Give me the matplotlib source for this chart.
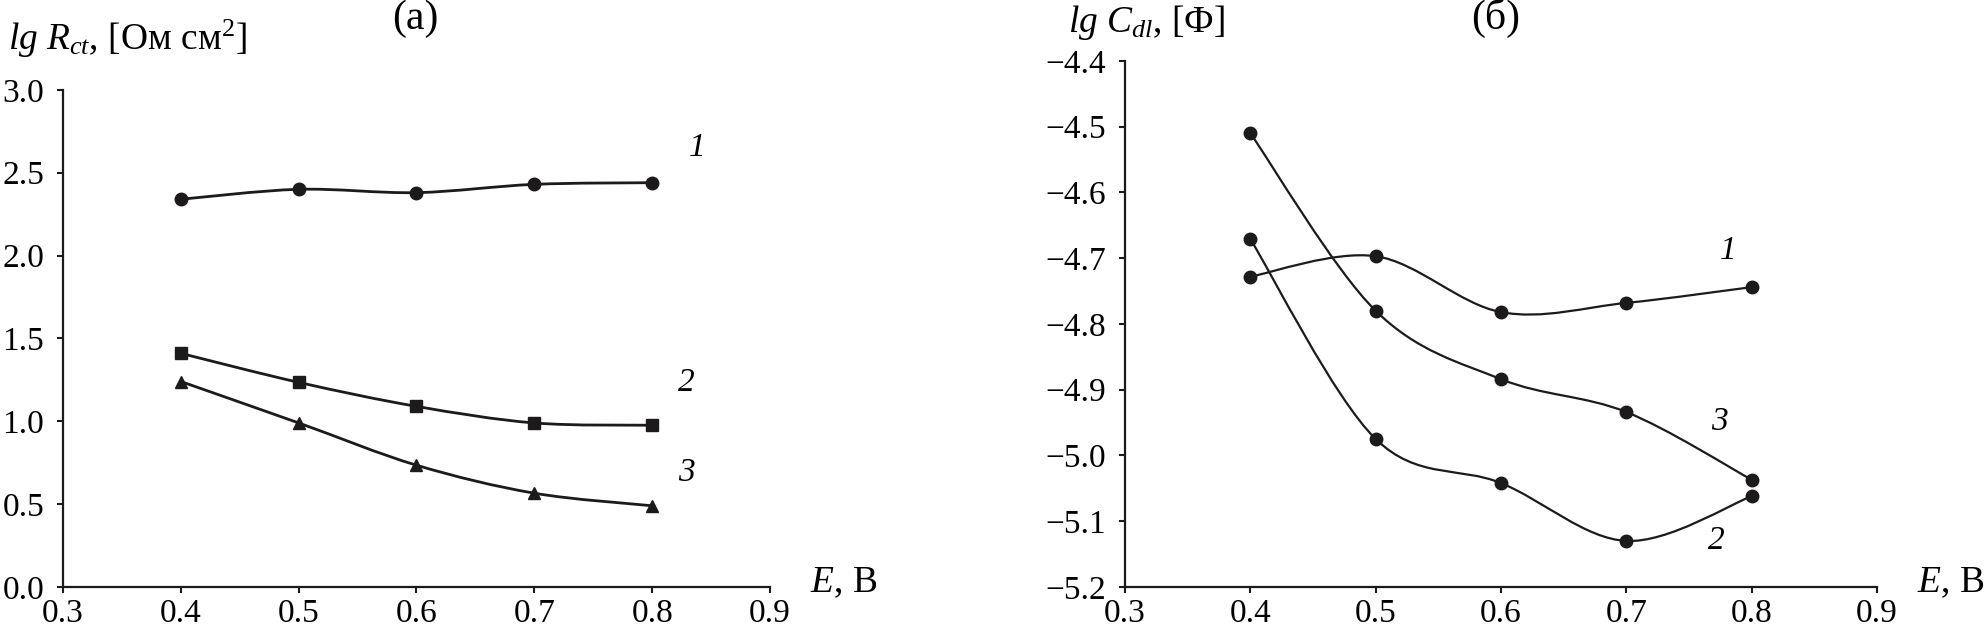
"""Rct and Cdl versus potential E, two panels (а) and (б)."""

import numpy as np
import matplotlib
matplotlib.use("Agg")
import matplotlib.pyplot as plt
from matplotlib.path import Path
from matplotlib.patches import PathPatch
from matplotlib.ticker import FuncFormatter, MultipleLocator

plt.rcParams["font.family"] = ["Liberation Serif", "DejaVu Serif"]
plt.rcParams["mathtext.fontset"] = "custom"
plt.rcParams["mathtext.rm"] = "Liberation Serif"
plt.rcParams["mathtext.it"] = "Liberation Serif:italic"
plt.rcParams["font.size"] = 24

INK = "#1c1a1b"

# data
E = [0.4, 0.5, 0.6, 0.7, 0.8]
lg_rct_1 = [2.34, 2.40, 2.38, 2.43, 2.44]
lg_rct_2 = [1.41, 1.235, 1.09, 0.99, 0.976]
lg_rct_3 = [1.24, 0.99, 0.735, 0.566, 0.49]
lg_cdl_1 = [-4.728, -4.697, -4.782, -4.768, -4.744]
lg_cdl_2 = [-4.671, -4.975, -5.042, -5.130, -5.062]
lg_cdl_3 = [-4.510, -4.780, -4.884, -4.934, -5.037]


def smooth_line(ax, x, y, lw):
    """Draw a smoothed (Bezier) line through the points, like Excel smoothing."""
    pts = np.column_stack([x, y])
    n = len(pts)
    verts = [pts[0]]
    codes = [Path.MOVETO]
    for i in range(n - 1):
        p0 = pts[max(i - 1, 0)]
        p1 = pts[i]
        p2 = pts[i + 1]
        p3 = pts[min(i + 2, n - 1)]
        verts += [p1 + (p2 - p0) / 6, p2 - (p3 - p1) / 6, p2]
        codes += [Path.CURVE4] * 3
    ax.add_patch(PathPatch(Path(verts, codes), fill=False, lw=lw,
                           edgecolor=INK, capstyle="round", joinstyle="round"))


def style_axes(ax):
    for side in ("top", "right"):
        ax.spines[side].set_visible(False)
    for side in ("left", "bottom"):
        ax.spines[side].set_linewidth(1.6)
        ax.spines[side].set_color(INK)
    ax.tick_params(direction="out", length=4.5, width=1.5, color=INK)
    ax.tick_params(axis="y", pad=9)
    ax.tick_params(axis="x", pad=4)
    ax.xaxis.set_major_locator(MultipleLocator(0.1))
    fmt = FuncFormatter(lambda v, p: ("%.1f" % v).replace("-", "\u2212"))
    ax.xaxis.set_major_formatter(fmt)
    ax.yaxis.set_major_formatter(fmt)
    ax.set_xlim(0.3, 0.9)


fig = plt.figure(figsize=(19.88, 6.30), dpi=100)

# panel (а)
ax1 = fig.add_axes([0.0317, 0.0683, 0.3556, 0.789])
style_axes(ax1)
ax1.set_ylim(0, 3.0)
ax1.yaxis.set_major_locator(MultipleLocator(0.5))
for vals, mk in ((lg_rct_1, "o"), (lg_rct_2, "s"), (lg_rct_3, "^")):
    smooth_line(ax1, E, vals, 2.0)
    ax1.plot(E, vals, linestyle="none", marker=mk, markersize=9,
             color=INK, clip_on=False, zorder=3)
ax1.text(0.838, 2.65, "1", style="italic", ha="center", va="center")
ax1.text(0.829, 1.235, "2", style="italic", ha="center", va="center")
ax1.text(0.829, 0.69, "3", style="italic", ha="center", va="center")
ax1.text(1.057, -0.01, "$E$, В", transform=ax1.transAxes,
         ha="left", va="baseline", fontsize=27)

# panel (б)
ax2 = fig.add_axes([0.5659, 0.0683, 0.3783, 0.835])
style_axes(ax2)
ax2.set_ylim(-5.2, -4.4)
ax2.yaxis.set_major_locator(MultipleLocator(0.1))
for vals in (lg_cdl_1, lg_cdl_2, lg_cdl_3):
    smooth_line(ax2, E, vals, 1.6)
    ax2.plot(E, vals, linestyle="none", marker="o", markersize=9,
             color=INK, clip_on=False, zorder=3)
ax2.text(0.781, -4.688, "1", style="italic", ha="center", va="center")
ax2.text(0.774, -4.949, "3", style="italic", ha="center", va="center")
ax2.text(0.772, -5.129, "2", style="italic", ha="center", va="center")
ax2.text(1.053, -0.0095, "$E$, В", transform=ax2.transAxes,
         ha="left", va="baseline", fontsize=27)

# axis titles and panel letters
fig.text(8 / 1988, 0.921, "$lg\\ R_{ct}$, [Ом см$^2$]", ha="left", va="baseline",
         fontsize=27)
fig.text(1068 / 1988, 0.949, "$lg\\ C_{dl}$, [Ф]", ha="left", va="baseline",
         fontsize=27)
fig.text(0.2088, 0.971, "(а)", ha="center", va="center", fontsize=30)
fig.text(0.7525, 0.971, "(б)", ha="center", va="center", fontsize=30)

fig.savefig("out.png", dpi=100)
